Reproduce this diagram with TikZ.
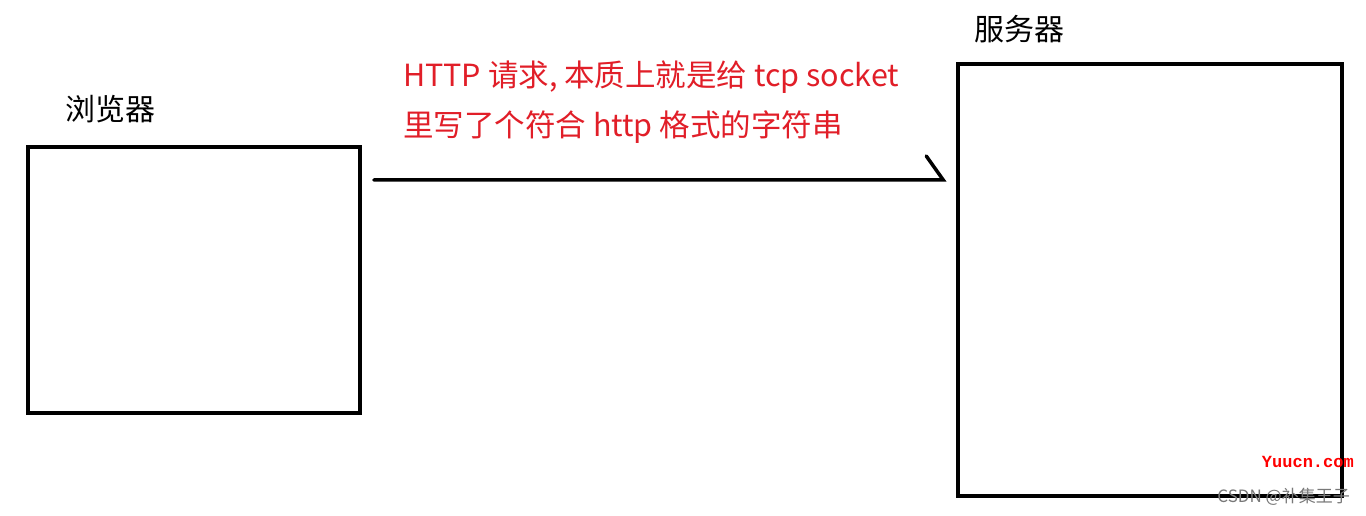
\documentclass[tikz,border=0pt]{standalone}
\usepackage{fontspec}
\setmainfont{Noto Sans CJK SC}
\newfontfamily\cjk{Noto Sans CJK SC}
\newfontfamily\wmfont{Liberation Mono}
\definecolor{labred}{RGB}{225,30,40}
\definecolor{wmgray}{RGB}{120,120,120}
\begin{document}
\begin{tikzpicture}[x=1pt,y=-1pt,
  box/.style={draw=black,line width=3.5pt,inner sep=0pt},
  conn/.style={draw=black,line width=3.5pt,line cap=round,line join=miter},
  lbl/.style={font=\cjk\fontsize{30}{32}\selectfont,text=black,inner sep=0pt},
  redtxt/.style={font=\cjk\fontsize{30.5}{34}\selectfont,text=labred,inner sep=0pt,anchor=base west},
  wm/.style={inner sep=0pt,anchor=base east}]
\useasboundingbox[fill=white] (0,0) rectangle (1366,516);
% boxes
\node[box,minimum width=332pt,minimum height=266pt] (browser) at (194,280) {};
\node[box,minimum width=384pt,minimum height=432pt] (server) at (1150,280) {};
% labels
\node[lbl] (lb) at (110,109) {浏览器};
\node[lbl] (ls) at (1019,29) {服务器};
% arrow
\coordinate (start) at ([xshift=12pt]browser.east |- 0,180);
\coordinate (tip) at ([xshift=-13pt]server.west |- 0,180);
\coordinate (barb) at ([shift={(-17,-24)}]tip);
\draw[conn] (start) -- (tip) -- (barb);
% red text
\node[redtxt] (t1) at (403,87) {HTTP 请求, 本质上就是给 tcp socket};
\node[redtxt] (t2) at (403,137) {里写了个符合 http 格式的字符串};
% watermarks
\node[wm,font=\wmfont\bfseries\fontsize{17}{18}\selectfont,text=red] (w1) at (1354,467) {Yuucn.com};
\node[wm,font=\cjk\fontsize{17}{18}\selectfont,text=wmgray] (w2) at (1350,502) {CSDN @补集王子};
\end{tikzpicture}
\end{document}
